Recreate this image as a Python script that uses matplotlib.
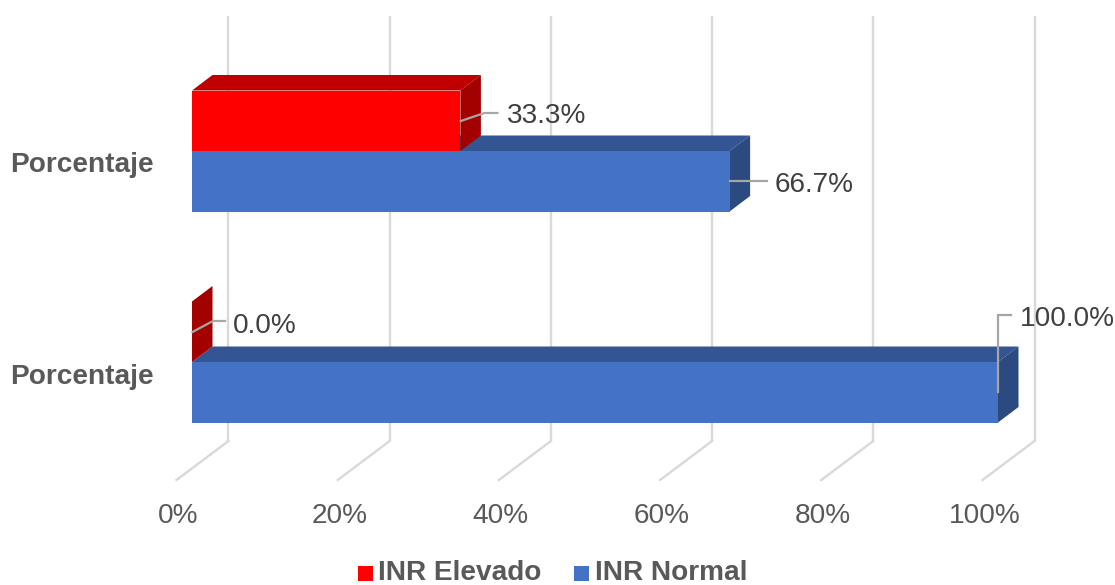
import matplotlib
matplotlib.use("Agg")
import matplotlib.pyplot as plt
from matplotlib.patches import Polygon, Rectangle

plt.rcParams['font.family'] = ['Liberation Sans', 'DejaVu Sans']

categorias = ['Porcentaje', 'Porcentaje']
inr_elevado = [33.3, 0.0]
inr_normal = [66.7, 100.0]
ticks = [0, 20, 40, 60, 80, 100]
tick_labels = ['0%', '20%', '40%', '60%', '80%', '100%']

ROJO = ('#ff0000', '#c00000', '#a30000')
AZUL = ('#4472c4', '#335593', '#2a4a80')
GRIS = '#d9d9d9'
LIDER = '#a6a6a6'
FS = 20.2

# x in percent, y in pixels from the top
PX = 8.06
fig = plt.figure(figsize=(11.15, 5.85), dpi=100)
ax = fig.add_axes([0, 0, 1, 1])
ax.set_xlim(-192 / PX, (1115 - 192) / PX)
ax.set_ylim(585, 0)
ax.axis('off')

DX = 20.5 / PX
DY = -15.5
TOP_FILAS = [90.5, 301.5]
ALTO = 60.5


def caja(valor, y, colores, z):
    frente, arriba, lado = colores
    ax.add_patch(Polygon([(0, y), (DX, y + DY), (valor + DX, y + DY), (valor, y)],
                         fc=arriba, ec='none', zorder=z))
    ax.add_patch(Polygon([(valor, y), (valor + DX, y + DY), (valor + DX, y + ALTO + DY), (valor, y + ALTO)],
                         fc=lado, ec='none', zorder=z))
    ax.add_patch(Rectangle((0, y), valor, ALTO, fc=frente, ec='none', zorder=z))


# back wall and floor lines
for t, lab in zip(ticks, tick_labels):
    xb = t + 36.5 / PX
    xf = t - 15.5 / PX
    ax.plot([xb, xb], [16, 441], color=GRIS, lw=1.7, zorder=1, solid_capstyle='butt')
    ax.plot([xb, xf], [441, 480], color=GRIS, lw=1.7, zorder=1)
    ax.text(xf + 2 / PX, 523, lab, ha='center', va='baseline', fontsize=FS, color='#595959')

for i, (y, e, n) in enumerate(zip(TOP_FILAS, inr_elevado, inr_normal)):
    caja(n, y + ALTO, AZUL, 2 + i)
    caja(e, y, ROJO, 2.5 + i)

# value labels with leader lines
def lider(valor, puntos, texto, x_txt, y_txt):
    xs = [valor + p[0] / PX for p in puntos]
    ys = [p[1] for p in puntos]
    ax.plot(xs, ys, color=LIDER, lw=1.6, zorder=6, solid_joinstyle='miter')
    ax.text(valor + x_txt / PX, y_txt, texto, ha='left', va='baseline',
            fontsize=FS, color='#404040', zorder=7)


lider(inr_elevado[0], [(0.5, 121), (24, 113), (37, 113)], f'{inr_elevado[0]:.1f}%', 47, 123)
lider(inr_normal[0], [(0, 181), (37, 181)], f'{inr_normal[0]:.1f}%', 45, 192)
lider(inr_elevado[1], [(0.5, 332), (21, 321), (33, 321)], f'{inr_elevado[1]:.1f}%', 41, 333)
lider(inr_normal[1], [(0, 392), (0, 314.5), (13, 314.5)], f'{inr_normal[1]:.1f}%', 22, 326)

for y, cat in zip([172, 384], categorias):
    ax.text(-38 / PX, y, cat, ha='right', va='baseline', fontsize=FS, fontweight='bold', color='#595959')

# legend
for x0, col, x_txt, nombre in [(358, ROJO[0], 378, 'INR Elevado'), (574, AZUL[0], 595, 'INR Normal')]:
    ax.add_patch(Rectangle(((x0 - 192) / PX, 566), 15 / PX, 15, fc=col, ec='none'))
    ax.text((x_txt - 192) / PX, 580, nombre, ha='left', va='baseline', fontsize=FS,
            fontweight='bold', color='#595959')

fig.savefig('out.png', dpi=100)
